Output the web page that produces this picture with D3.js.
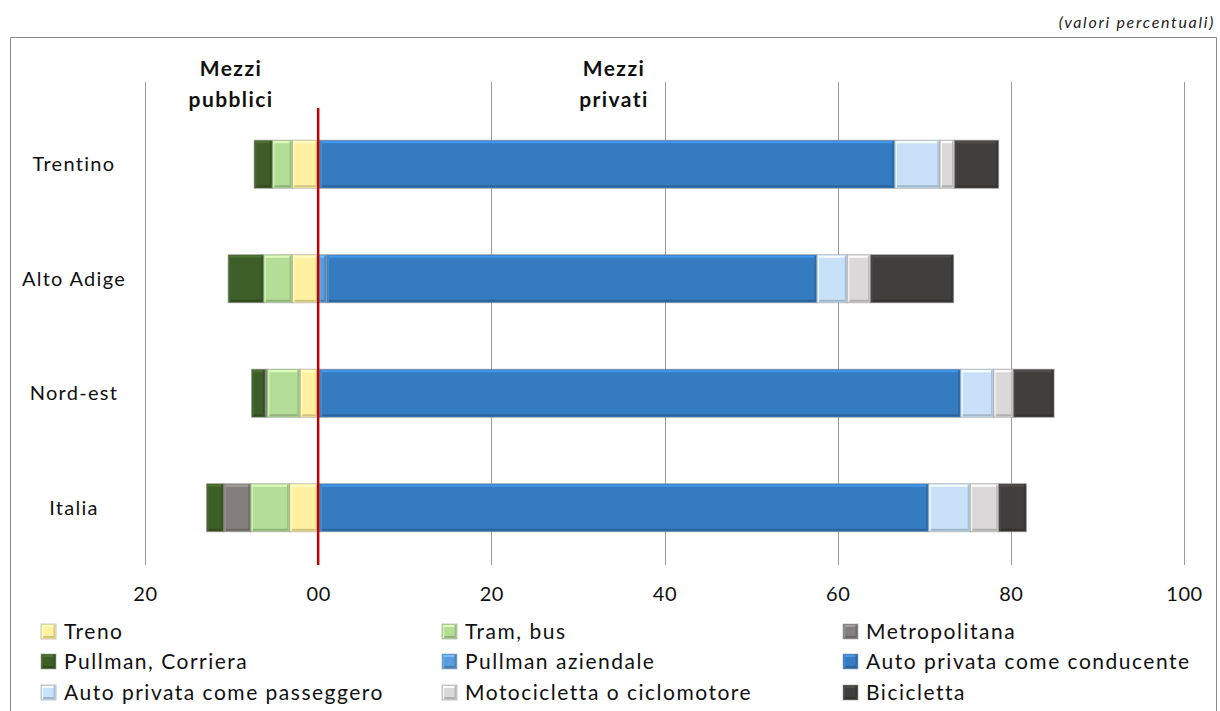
<!DOCTYPE html>
<html>
<head>
<meta charset="utf-8">
<script src="https://cdn.jsdelivr.net/npm/d3@7"></script>
<style>
  html, body { margin: 0; padding: 0; background: #fff; }
  svg { display: block; font-family: Lato, "Open Sans", sans-serif; }
</style>
</head>
<body>
<svg id="chart" width="1220" height="711"></svg>
<script>
// Territories (top to bottom)
const categories = ["Trentino", "Alto Adige", "Nord-est", "Italia"];

// Means of transport, in stacking order away from zero
const seriesNames = [
  "Treno", "Tram, bus", "Metropolitana", "Pullman, Corriera",
  "Pullman aziendale", "Auto privata come conducente",
  "Auto privata come passeggero", "Motocicletta o ciclomotore", "Bicicletta"
];

// Public transport (drawn to the left of zero)
const treno            = [3.0, 3.0, 2.1, 3.3];
const tramBus          = [2.3, 3.3, 3.8, 4.5];
const metropolitana    = [0.0, 0.0, 0.2, 3.1];
const pullmanCorriera  = [2.1, 4.1, 1.6, 2.0];
// Private transport (drawn to the right of zero)
const pullmanAziendale = [0.2, 1.0, 0.2, 0.2];
const autoConducente   = [66.4, 56.6, 74.0, 70.3];
const autoPasseggero   = [5.2, 3.5, 3.8, 4.8];
const moto             = [1.7, 2.7, 2.3, 3.3];
const bicicletta       = [5.1, 9.6, 4.7, 3.2];

const publicSeries = ["Treno", "Tram, bus", "Metropolitana", "Pullman, Corriera"];

const tickValues = [-20, 0, 20, 40, 60, 80, 100];
const tickLabels = ["20", "00", "20", "40", "60", "80", "100"];

const colors = {
  "Treno": "#FFF1A0",
  "Tram, bus": "#B4DE98",
  "Metropolitana": "#847F7D",
  "Pullman, Corriera": "#3E5E27",
  "Pullman aziendale": "#5B9BD8",
  "Auto privata come conducente": "#357BC0",
  "Auto privata come passeggero": "#C8E1F9",
  "Motocicletta o ciclomotore": "#DAD8D8",
  "Bicicletta": "#413F3C"
};

const valuesBySeries = {
  "Treno": treno,
  "Tram, bus": tramBus,
  "Metropolitana": metropolitana,
  "Pullman, Corriera": pullmanCorriera,
  "Pullman aziendale": pullmanAziendale,
  "Auto privata come conducente": autoConducente,
  "Auto privata come passeggero": autoPasseggero,
  "Motocicletta o ciclomotore": moto,
  "Bicicletta": bicicletta
};

// Table for the stack layout: public modes as negative values
const rows = categories.map((c, i) => {
  const r = { category: c };
  seriesNames.forEach(s => {
    const v = valuesBySeries[s][i];
    r[s] = publicSeries.includes(s) ? -v : v;
  });
  return r;
});

const stacked = d3.stack()
  .keys(seriesNames)
  .offset(d3.stackOffsetDiverging)(rows);

const svg = d3.select("#chart");

// Outer frame
svg.append("path")
  .attr("d", "M10.5,720 V37.5 H1216.5 V720")
  .attr("fill", "none")
  .attr("stroke", "#8c8c8c")
  .attr("stroke-width", 1);

svg.append("text")
  .attr("x", 1215).attr("y", 28)
  .attr("text-anchor", "end")
  .attr("font-style", "italic")
  .attr("font-size", 16)
  .attr("letter-spacing", 1.7)
  .attr("fill", "#222")
  .text("(valori percentuali)");

const x = d3.scaleLinear().domain([-20, 100]).range([145, 1184]);
const y = d3.scaleBand().domain(categories).range([107, 565])
  .paddingInner(0.58).paddingOuter(0.29);

const plotTop = 82, plotBottom = 565;

// Vertical gridlines
svg.append("g").selectAll("line")
  .data(tickValues.filter(v => v !== 0))
  .join("line")
  .attr("x1", d => Math.round(x(d)) + 0.5)
  .attr("x2", d => Math.round(x(d)) + 0.5)
  .attr("y1", plotTop).attr("y2", plotBottom)
  .attr("stroke", "#9a9a9a").attr("stroke-width", 1);

// Axis tick labels
const xAxis = d3.axisBottom(x)
  .tickValues(tickValues)
  .tickFormat((d, i) => tickLabels[i])
  .tickSize(0).tickPadding(22);
const ax = svg.append("g")
  .attr("transform", `translate(0,${plotBottom})`)
  .call(xAxis);
ax.select(".domain").remove();
ax.selectAll("text")
  .attr("font-size", 20)
  .attr("letter-spacing", 0.6)
  .attr("font-family", "Lato, sans-serif")
  .attr("fill", "#111");

// Category labels
svg.append("g").selectAll("text")
  .data(categories)
  .join("text")
  .attr("x", 74)
  .attr("y", d => y(d) + y.bandwidth() / 2 + 7)
  .attr("text-anchor", "middle")
  .attr("font-size", 20)
  .attr("letter-spacing", 1.3)
  .attr("fill", "#111")
  .text(d => d);

// Bevelled rectangle helper
function bevelRect(g, x0, y0, w, h, fill) {
  if (w <= 0) return;
  const base = d3.color(fill);
  g.append("rect")
    .attr("x", x0).attr("y", y0).attr("width", w).attr("height", h)
    .attr("fill", fill)
    .attr("stroke", "rgba(150,150,150,0.55)").attr("stroke-width", 1);
  if (w > 3) {
    g.append("rect")
      .attr("x", x0 + 1).attr("y", y0 + 1).attr("width", w - 2).attr("height", 2)
      .attr("fill", base.brighter(0.6));
    g.append("rect")
      .attr("x", x0 + 1).attr("y", y0 + h - 3).attr("width", w - 2).attr("height", 2)
      .attr("fill", base.darker(0.6));
    g.append("rect")
      .attr("x", x0 + w - 2.5).attr("y", y0 + 1).attr("width", 1.5).attr("height", h - 2)
      .attr("fill", base.darker(0.45));
    g.append("rect")
      .attr("x", x0 + 1).attr("y", y0 + 1).attr("width", 1.2).attr("height", h - 2)
      .attr("fill", base.brighter(0.35));
  }
}

// Bars
const barsG = svg.append("g");
stacked.forEach(layer => {
  const g = barsG.append("g");
  layer.forEach((seg, i) => {
    const x0 = x(Math.min(seg[0], seg[1]));
    const x1 = x(Math.max(seg[0], seg[1]));
    bevelRect(g, x0, y(categories[i]), x1 - x0, y.bandwidth(), colors[layer.key]);
  });
});

// Zero line
svg.append("line")
  .attr("x1", x(0)).attr("x2", x(0))
  .attr("y1", 108).attr("y2", plotBottom)
  .attr("stroke", "#C00000").attr("stroke-width", 2.5);

// Group headings
const heads = [
  { lines: ["Mezzi", "pubblici"], cx: 231 },
  { lines: ["Mezzi", "privati"], cx: 614 }
];
heads.forEach(h => {
  const t = svg.append("text")
    .attr("text-anchor", "middle")
    .attr("font-weight", "bold")
    .attr("font-size", 21)
    .attr("letter-spacing", 1.4)
    .attr("fill", "#111");
  h.lines.forEach((l, i) => {
    t.append("tspan").attr("x", h.cx).attr("y", 76 + i * 31).text(l);
  });
});

// Legend
const legendCols = [41, 442, 843];
const legendRows = [624, 654, 685];
const lg = svg.append("g");
seriesNames.forEach((s, i) => {
  const cx = legendCols[i % 3], cy = legendRows[Math.floor(i / 3)];
  bevelRect(lg, cx, cy, 15, 15, colors[s]);
  lg.append("text")
    .attr("x", cx + 23).attr("y", cy + 15)
    .attr("font-size", 21)
    .attr("letter-spacing", 1.5)
    .attr("fill", "#111")
    .text(s);
});
</script>
</body>
</html>
